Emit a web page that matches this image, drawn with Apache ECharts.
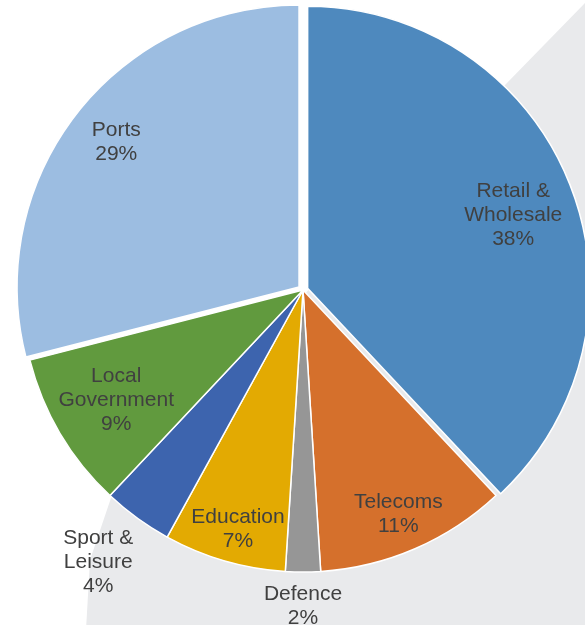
<!DOCTYPE html>
<html>
<head>
<meta charset="utf-8">
<script src="https://cdn.jsdelivr.net/npm/echarts@6/dist/echarts.min.js"></script>
<style>
  html, body { margin: 0; padding: 0; background: #fff; }
  #chart { width: 585px; height: 625px; }
</style>
</head>
<body>
<div id="chart"></div>
<script>
// sectors, clockwise from 12 o'clock
const categories = ['Retail &\nWholesale', 'Telecoms', 'Defence', 'Education', 'Sport &\nLeisure', 'Local\nGovernment', 'Ports'];
const values = [38, 11, 2, 7, 4, 9, 29];
const exploded = [true, false, false, false, false, false, true];

const colors = ['#4E89BE', '#D5702C', '#969696', '#E3AA02', '#3D64AE', '#619A3E', '#9CBDE1'];
// label placement: distance from centre (px) and small angle nudge (deg)
const labelDist = [223, 244, 316, 248, 341, 217, 238];
const labelNudge = [2.1, 0.4, 0, -1.0, 0.9, 0, 0.5];

const CX = 303, CY = 290, R = 282;

const chart = echarts.init(document.getElementById('chart'));
const total = values.reduce((a, b) => a + b, 0);

const labelStyle = {
    show: true,
    position: 'inside',
    color: '#404040',
    fontFamily: 'Liberation Sans, Arial, sans-serif',
    fontSize: 21,
    lineHeight: 24,
    align: 'center',
    formatter: p => p.name + '\n' + Math.round(p.percent) + '%'
};

chart.setOption({
    animation: false,
    graphic: [{
        type: 'polygon',
        z: 0,
        shape: {
            points: [[590, -2], [505, 85], [112, 495], [90, 560], [86, 630], [590, 630]]
        },
        style: { fill: '#E9EAEC' }
    }],
    series: [{
        // the slices
        type: 'pie',
        center: [CX, CY],
        radius: [0, R],
        startAngle: 90,
        clockwise: true,
        selectedMode: 'multiple',
        selectedOffset: 5,
        itemStyle: {
            borderColor: '#fff',
            borderWidth: 1.5
        },
        emphasis: { disabled: true },
        label: { show: false },
        labelLine: { show: false },
        data: categories.map((name, i) => ({
            name: name,
            value: values[i],
            selected: exploded[i],
            itemStyle: { color: colors[i] }
        }))
    }, {
        // same data again, only for the labels
        type: 'pie',
        center: [CX, CY],
        radius: [0, R],
        startAngle: 90,
        clockwise: true,
        silent: true,
        z: 3,
        itemStyle: { color: 'rgba(0,0,0,0)', borderWidth: 0 },
        emphasis: { disabled: true },
        label: labelStyle,
        labelLine: { show: false },
        labelLayout: function (params) {
            const i = params.dataIndex;
            let before = 0;
            for (let k = 0; k < i; k++) before += values[k];
            const a = (before + values[i] / 2) / total * Math.PI * 2 + labelNudge[i] * Math.PI / 180;
            const d = labelDist[i];
            return {
                x: CX + d * Math.sin(a),
                y: CY - d * Math.cos(a),
                align: 'center',
                verticalAlign: 'middle'
            };
        },
        data: categories.map((name, i) => ({ name: name, value: values[i] }))
    }]
});
</script>
</body>
</html>
